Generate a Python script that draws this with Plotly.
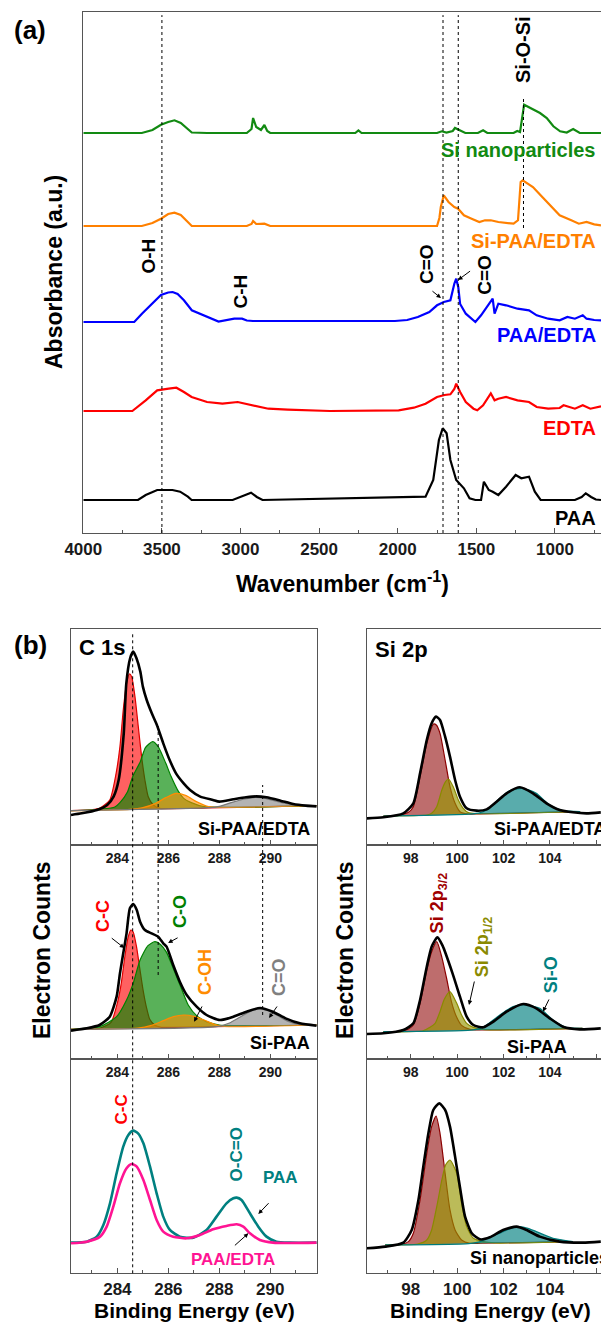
import plotly.graph_objects as go

W, H = 601, 1324
FONT = "Liberation Sans, Arial, sans-serif"
NARROW = "Liberation Sans Narrow, Liberation Sans, Arial, sans-serif"

# ================= (a) FTIR spectra =================
wn_si = [4000, 3628, 3560, 3506, 3460, 3420, 3380, 3330, 3310, 3213, 2960, 2930, 2920, 2900, 2870, 2848,
         2830, 2811, 2270, 2250, 2230, 1750, 1720, 1690, 1650, 1636, 1600, 1570, 1490, 1457, 1430, 1263,
         1240, 1222, 1196, 1158, 1095, 1052, 1010, 967, 925, 884, 842, 707]
ab_si = [0, 0, 3, 8.3, 11, 12.7, 10, 3, 0.5, 0, 0, 4, 15, 6, 3, 8,
         2, 0, 0, 2.5, 0, 0, 1.7, 0.5, 2, 5, 2, 0, 0, 2.7, 0, 0,
         2, 1, 28.3, 25, 20, 15, 6.7, 1.7, 0.5, 4, 0, 0]

wn_sipe = [4000, 3628, 3560, 3506, 3460, 3420, 3380, 3330, 3310, 2960, 2930, 2920, 2900, 2848, 2811, 1750,
           1735, 1726, 1707, 1677, 1640, 1616, 1579, 1530, 1481, 1445, 1408, 1360, 1263, 1235, 1218, 1205,
           1190, 1140, 1091, 1018, 970, 896, 848, 799, 750, 707]
ab_sipe = [0, 0, 3, 7.3, 12, 13.3, 11, 3, 0, 0, 2, 5, 2, 2.3, 0, 0,
           8, 19, 30.7, 24, 19, 17.3, 10.7, 7.3, 4, 5.7, 5.7, 4, 2.3, 5.7, 44, 45.7,
           44, 39, 30.7, 19, 10.7, 5.7, 2.3, 4, 1.7, 0.7]

wn_pe = [4000, 3676, 3627, 3554, 3506, 3460, 3432, 3400, 3360, 3310, 3213, 3140, 3040, 2990, 2960, 2921,
         2500, 2018, 1940, 1872, 1799, 1750, 1707, 1665, 1640, 1628, 1615, 1603, 1567, 1530, 1506, 1470,
         1433, 1408, 1396, 1384, 1360, 1311, 1238, 1165, 1116, 1043, 970, 921, 873, 823, 799, 750, 707]
ab_pe = [0, 0, 8.3, 20, 27, 29.5, 30, 28, 21.7, 11.7, 5, 0.5, 3.3, 3.3, 1.5, 1,
         1, 1, 2, 5, 10, 16.7, 20, 21.7, 38.3, 43.3, 35, 18, 8.3, 3.3, 0, 6.7,
         15, 21.7, 23.3, 8.3, 18.3, 16.7, 13.3, 11.7, 6.7, 3.3, 1.7, 5, 3.3, 6.7, 3.3, 2, 1.7]

wn_ed = [4000, 3688, 3603, 3530, 3457, 3408, 3360, 3311, 3213, 3115, 3018, 2921, 2823, 2700, 2432, 1994,
         1897, 1823, 1750, 1702, 1665, 1640, 1628, 1603, 1567, 1518, 1494, 1457, 1408, 1384, 1360, 1311,
         1238, 1165, 1116, 1043, 970, 945, 873, 823, 775, 707]
ab_ed = [0, 0, 10.7, 20.7, 22.3, 23.3, 19, 14, 9, 7.3, 9, 5.7, 2.3, 1.3, 0, 0.7,
         3.3, 7.3, 14, 16, 16.7, 22, 27.3, 19, 9, 2.3, 0.7, 5.7, 17.7, 10.7, 12.3, 14,
         10.7, 9, 4, 2.3, 3, 5.7, 2.3, 5.7, 2.3, 4.7]

wn_paa = [4000, 3652, 3603, 3530, 3433, 3384, 3335, 3311, 3050, 2994, 2933, 2896, 2860, 1823, 1774, 1738,
          1714, 1689, 1665, 1628, 1579, 1543, 1506, 1470, 1452, 1421, 1396, 1360, 1311, 1250, 1214, 1165,
          1128, 1091, 873, 830, 804, 770, 740, 707]
ab_paa = [0, 0, 5, 10, 10, 8.3, 3.3, 0, 0, 3.3, 7.3, 3, 0, 3.3, 20, 60,
          71.7, 66.7, 40, 20, 11.7, 1.7, 0, 0, 18.3, 10, 8.3, 5, 13.3, 25, 21.7, 23.3,
          8.3, 0, 0, 3, 6.7, 3, 0.5, 0]

ftir_names = ["Si nanoparticles", "Si-PAA/EDTA", "PAA/EDTA", "EDTA", "PAA"]
ftir_x = [wn_si, wn_sipe, wn_pe, wn_ed, wn_paa]
ftir_y = [ab_si, ab_sipe, ab_pe, ab_ed, ab_paa]
ftir_offset = [400, 307, 211, 122, 33]
ftir_color = ["#128a12", "#ff8000", "#0000ff", "#ff0000", "#000000"]

# ================= (b) XPS C 1s =================
ev_c1s_base = [282.18, 291.82]
# Si-PAA/EDTA
c_a_base = [103, 118]
ev_a_env = [282.18, 282.6, 283.2, 283.6, 283.85, 284.05, 284.25, 284.35, 284.5, 284.62, 284.75, 284.9, 285.0,
            285.15, 285.35, 285.55, 285.8, 286.05, 286.3, 286.6, 286.85, 287.25, 287.75, 288.0, 288.55,
            289.05, 289.45, 289.85, 290.4, 290.9, 291.4, 291.82]
c_a_env = [90, 95, 105, 120, 145, 195, 335, 485, 560, 580, 560, 520, 475, 435, 395, 360, 305, 255, 215,
           185, 165, 145, 135, 130, 137, 143, 146, 143, 133, 123, 118, 116]
ev_a_cc = [282.18, 283.0, 283.3, 283.7, 283.95, 284.1, 284.23, 284.36, 284.47, 284.56, 284.69, 284.82,
           284.95, 285.08, 285.21, 285.41, 285.67, 286.0, 291.82]
c_a_cc = [103, 106, 110, 135, 215, 295, 405, 485, 513, 505, 445, 355, 265, 195, 145, 120, 110, 109, 118]
ev_a_co = [282.18, 283.4, 283.9, 284.1, 284.4, 284.6, 284.9, 285.1, 285.38, 285.6, 285.9, 286.1, 286.4,
           286.6, 286.9, 287.4, 291.82]
c_a_co = [103, 108, 114, 127, 160, 205, 250, 292, 310, 295, 245, 207, 160, 140, 127, 115, 118]
ev_a_coh = [282.18, 284.5, 285.0, 285.5, 285.9, 286.3, 286.7, 287.1, 287.5, 287.9, 288.3, 291.82]
c_a_coh = [103, 107, 112, 125, 142, 155, 148, 130, 117, 113, 113, 118]
ev_a_cdo = [282.18, 287.6, 288.0, 288.5, 289.0, 289.4, 289.8, 290.3, 290.8, 291.3, 291.82]
c_a_cdo = [103, 112, 116, 128, 138, 143, 140, 130, 122, 118, 118]

# Si-PAA
c_b_base = [89, 102]
ev_b_env = [282.18, 282.8, 283.3, 283.7, 283.97, 284.1, 284.23, 284.36, 284.49, 284.62, 284.76, 284.89,
            285.08, 285.34, 285.6, 285.8, 285.93, 286.19, 286.45, 286.72, 287.11, 287.5, 288.02, 288.55,
            289.07, 289.6, 290.1, 290.6, 291.16, 291.82]
c_b_env = [85, 92, 102, 127, 187, 257, 317, 377, 452, 465, 447, 412, 387, 377, 367, 347, 337, 282, 232,
           192, 157, 132, 117, 127, 142, 153, 142, 122, 107, 100]
ev_b_cc = [282.18, 283.3, 283.75, 284.0, 284.15, 284.29, 284.42, 284.53, 284.62, 284.75, 284.88, 285.01,
           285.14, 285.27, 285.47, 285.73, 286.2, 291.82]
c_b_cc = [89, 92, 110, 168, 226, 306, 365, 387, 381, 337, 271, 206, 155, 119, 101, 95, 95, 102]
ev_b_co = [282.18, 283.3, 283.97, 284.36, 284.62, 284.89, 285.2, 285.47, 285.7, 285.93, 286.19, 286.52,
           286.78, 287.11, 287.5, 288.0, 291.82]
c_b_co = [89, 97, 127, 177, 227, 297, 340, 352, 343, 320, 272, 210, 162, 130, 112, 102, 102]
ev_b_coh = [282.18, 284.8, 285.3, 285.8, 286.2, 286.6, 287.0, 287.4, 287.8, 288.2, 291.82]
c_b_coh = [89, 93, 100, 115, 127, 132, 128, 117, 104, 98, 102]
ev_b_cdo = [282.18, 287.9, 288.4, 288.8, 289.2, 289.55, 289.9, 290.3, 290.7, 291.2, 291.82]
c_b_cdo = [89, 97, 108, 125, 142, 150, 145, 130, 113, 103, 102]

# PAA and PAA/EDTA
ev_paa = [282.18, 282.8, 283.19, 283.45, 283.71, 283.97, 284.23, 284.43, 284.62, 284.81, 285.02, 285.28,
          285.54, 285.8, 286.06, 286.45, 286.98, 287.5, 287.89, 288.28, 288.55, 288.68, 288.87, 289.2,
          289.53, 289.85, 290.24, 290.77, 291.82]
c_paa = [92, 95, 110, 145, 210, 300, 380, 415, 428, 420, 390, 320, 240, 170, 130, 110, 107, 130, 170,
         210, 225, 227, 220, 180, 140, 110, 95, 92, 92]
ev_pe = [282.18, 282.8, 283.32, 283.58, 283.84, 284.1, 284.36, 284.56, 284.76, 285.02, 285.28, 285.54,
         285.8, 286.19, 286.72, 287.24, 287.76, 288.28, 288.68, 288.94, 289.2, 289.59, 290.11, 291.82]
c_pe = [90, 95, 110, 140, 200, 270, 315, 328, 320, 280, 220, 160, 125, 110, 105, 115, 132, 142, 147, 140,
        120, 100, 92, 92]

# ================= (b) XPS Si 2p =================
# Si-PAA/EDTA
ev_d_base = [96.82, 105.3]
c_d_base = [87, 100]
ev_d_env = [96.11, 96.82, 97.68, 98.11, 98.4, 98.69, 98.9, 99.09, 99.26, 99.48, 99.69, 99.91, 100.12,
            100.41, 100.84, 101.27, 101.7, 102.13, 102.7, 103.27, 103.85, 104.42, 104.99, 105.57, 106.19]
c_d_env = [80, 83, 95, 125, 215, 315, 365, 385, 375, 325, 265, 195, 145, 110, 103, 107, 130, 155, 173,
           155, 125, 105, 98, 95, 98]
ev_d_32 = [96.82, 97.5, 97.9, 98.11, 98.4, 98.69, 98.98, 99.1, 99.26, 99.48, 99.69, 99.91, 100.12, 100.5,
           101.0, 105.3]
c_d_32 = [87, 90, 98, 115, 205, 305, 363, 360, 335, 255, 175, 125, 100, 93, 93.5, 100]
ev_d_12 = [96.82, 98.7, 98.9, 99.12, 99.34, 99.5, 99.62, 99.83, 100.05, 100.26, 100.48, 100.8, 105.3]
c_d_12 = [87, 90, 95, 115, 165, 190, 198, 175, 135, 110, 97, 94, 100]
ev_d_sio = [96.82, 100.5, 101.0, 101.27, 101.84, 102.27, 102.77, 103.1, 103.41, 103.99, 104.56, 105.3]
c_d_sio = [87, 92.6, 97, 105, 140, 163, 170, 165, 155, 120, 103, 100]

# Si-PAA
ev_e_base = [96.82, 105.4]
c_e_base = [82, 92]
ev_e_env = [96.11, 96.82, 97.68, 98.11, 98.4, 98.69, 98.9, 99.15, 99.37, 99.8, 100.12, 100.41, 100.7,
            101.13, 101.56, 102.13, 102.85, 103.41, 103.99, 104.56, 105.28, 106.19]
c_e_env = [75, 77, 87, 107, 177, 277, 337, 365, 340, 257, 187, 127, 102, 95, 112, 142, 165, 152, 122, 97,
           89, 92]
ev_e_32 = [96.82, 97.6, 97.9, 98.11, 98.4, 98.69, 98.9, 99.12, 99.34, 99.55, 99.76, 99.98, 100.19, 100.55,
           101.0, 105.4]
c_e_32 = [82, 84, 90, 102, 167, 267, 322, 352, 305, 240, 170, 125, 101, 89, 87.5, 92]
ev_e_12 = [96.82, 98.5, 98.83, 99.05, 99.26, 99.45, 99.69, 99.98, 100.19, 100.41, 100.7, 101.2, 105.4]
c_e_12 = [82, 84, 95, 107, 142, 180, 202, 167, 132, 107, 95, 88, 92]
ev_e_sio = [96.82, 100.6, 101.0, 101.27, 101.84, 102.41, 102.92, 103.56, 104.13, 104.7, 105.4]
c_e_sio = [82, 86.5, 92, 102, 132, 157, 162, 152, 117, 95, 92]

# Si nanoparticles
ev_f_base = [96.9, 104.99]
c_f_base = [85, 95]
ev_f_env = [96.11, 96.9, 97.68, 98.04, 98.33, 98.54, 98.76, 98.97, 99.23, 99.48, 99.69, 99.91, 100.12,
            100.34, 100.63, 100.98, 101.41, 101.98, 102.56, 102.99, 103.56, 104.42, 105.42, 106.19]
c_f_env = [75, 80, 92, 130, 220, 320, 420, 490, 510, 490, 440, 350, 258, 170, 120, 102, 108, 130, 140, 130,
           110, 95, 92, 95]
ev_f_32 = [96.9, 97.6, 97.9, 98.11, 98.4, 98.69, 98.9, 99.09, 99.26, 99.48, 99.69, 99.91, 100.19, 100.55,
           101.0, 104.99]
c_f_32 = [85, 87, 95, 120, 220, 360, 440, 472, 420, 300, 190, 130, 100, 90, 90.1, 95]
ev_f_12 = [96.9, 98.3, 98.69, 98.9, 99.12, 99.34, 99.5, 99.69, 99.98, 100.19, 100.41, 100.7, 101.13, 101.6,
           104.99]
c_f_12 = [85, 88, 100, 130, 200, 280, 325, 340, 300, 210, 140, 105, 95, 91, 95]
ev_f_sio = [96.9, 100.5, 101.0, 101.27, 101.98, 102.3, 102.7, 103.05, 103.41, 104.13, 104.99]
c_f_sio = [85, 89.3, 95, 105, 125, 135, 140, 135, 125, 105, 95]

# ================= figure =================
fig = go.Figure()

for name, xs, ys, off, col in zip(ftir_names, ftir_x, ftir_y, ftir_offset, ftir_color):
    fig.add_trace(go.Scatter(x=xs, y=[off + v for v in ys], mode="lines", name=name,
                             line=dict(color=col, width=2.2), xaxis="x", yaxis="y"))

C_RED = dict(line="#e00000", fill="rgba(255,0,0,0.62)")
C_GRN = dict(line="#008000", fill="rgba(0,135,0,0.65)")
C_ORG = dict(line="#ff8c00", fill="rgba(255,140,0,0.6)")
C_GRY = dict(line="#777777", fill="rgba(128,128,128,0.6)")
C_DRD = dict(line="#8b0000", fill="rgba(150,20,20,0.62)")
C_OLV = dict(line="#8a8a00", fill="rgba(150,150,0,0.65)")
C_TEA = dict(line="#007b7b", fill="rgba(0,128,128,0.65)")


def add_component(bx, by, xs, ys, col, xa, ya):
    fig.add_trace(go.Scatter(x=bx, y=by, mode="lines", line=dict(width=0), hoverinfo="skip",
                             showlegend=False, xaxis=xa, yaxis=ya))
    fig.add_trace(go.Scatter(x=xs, y=ys, mode="lines", fill="tonexty", fillcolor=col["fill"],
                             line=dict(color=col["line"], width=1.2, shape="spline", smoothing=0.6),
                             showlegend=False, xaxis=xa, yaxis=ya))


def add_env(xs, ys, xa, ya, color="black", width=2.6):
    fig.add_trace(go.Scatter(x=xs, y=ys, mode="lines",
                             line=dict(color=color, width=width, shape="spline", smoothing=0.6),
                             showlegend=False, xaxis=xa, yaxis=ya))


# C 1s top (Si-PAA/EDTA)
for xs, ys, col in [(ev_a_cc, c_a_cc, C_RED), (ev_a_co, c_a_co, C_GRN), (ev_a_coh, c_a_coh, C_ORG),
                    (ev_a_cdo, c_a_cdo, C_GRY)]:
    add_component(ev_c1s_base, c_a_base, xs, ys, col, "x2", "y2")
add_env(ev_a_env, c_a_env, "x2", "y2")
# C 1s middle (Si-PAA)
for xs, ys, col in [(ev_b_cc, c_b_cc, C_RED), (ev_b_co, c_b_co, C_GRN), (ev_b_coh, c_b_coh, C_ORG),
                    (ev_b_cdo, c_b_cdo, C_GRY)]:
    add_component(ev_c1s_base, c_b_base, xs, ys, col, "x3", "y3")
add_env(ev_b_env, c_b_env, "x3", "y3")
# C 1s bottom
add_env(ev_paa, c_paa, "x4", "y4", color="#008080", width=2.6)
add_env(ev_pe, c_pe, "x4", "y4", color="#ff1493", width=2.6)

# Si 2p
for xs, ys, col in [(ev_d_32, c_d_32, C_DRD), (ev_d_12, c_d_12, C_OLV), (ev_d_sio, c_d_sio, C_TEA)]:
    add_component(ev_d_base, c_d_base, xs, ys, col, "x5", "y5")
add_env(ev_d_env, c_d_env, "x5", "y5")
for xs, ys, col in [(ev_e_32, c_e_32, C_DRD), (ev_e_12, c_e_12, C_OLV), (ev_e_sio, c_e_sio, C_TEA)]:
    add_component(ev_e_base, c_e_base, xs, ys, col, "x6", "y6")
add_env(ev_e_env, c_e_env, "x6", "y6")
for xs, ys, col in [(ev_f_32, c_f_32, C_DRD), (ev_f_12, c_f_12, C_OLV), (ev_f_sio, c_f_sio, C_TEA)]:
    add_component(ev_f_base, c_f_base, xs, ys, col, "x7", "y7")
add_env(ev_f_env, c_f_env, "x7", "y7")


def py(p):
    return 1 - p / H


LINE = dict(showgrid=False, zeroline=False, showline=True, linecolor="#555", linewidth=1.3,
            automargin=False)


def xax(domain, rng, anchor, dtick, minor, size, fam=FONT):
    return dict(domain=domain, range=rng, anchor=anchor, dtick=dtick, tick0=0, ticks="inside",
                ticklen=5, tickwidth=1.2, tickcolor="#555", mirror=True,
                minor=dict(dtick=minor, ticks="inside", ticklen=3, tickcolor="#555"),
                tickfont=dict(size=size, family=fam, color="#1a1a1a", weight="bold"), **LINE)


def yax(domain, rng, anchor, mirror):
    return dict(domain=domain, range=rng, anchor=anchor, showticklabels=False, ticks="", mirror=mirror,
                **LINE)


LX = [71 / W, 316.7 / W]
RX = [366.7 / W, 1.0]
ROW1 = [py(845), py(629.3)]
ROW2 = [py(1059), py(845)]
ROW3 = [py(1273.3), py(1059)]
C1S = [282.18, 291.82]
SI2P = [96.1, 106.2]

fig.update_layout(
    template="none",
    width=W, height=H, autosize=False, margin=dict(l=0, r=0, t=0, b=0, pad=0, autoexpand=False),
    showlegend=False, paper_bgcolor="white", plot_bgcolor="white",
    xaxis=xax([83.3 / W, 1.0], [4000, 707], "y", 500, 250, 17),
    yaxis=yax([py(533), py(12)], [0, 521], "x", False),
    xaxis2=xax(LX, C1S, "y2", 2, 1, 14, NARROW), yaxis2=yax(ROW1, [0, 647], "x2", True),
    xaxis3=xax(LX, C1S, "y3", 2, 1, 14, NARROW), yaxis3=yax(ROW2, [0, 642], "x3", True),
    xaxis4=xax(LX, C1S, "y4", 2, 1, 17), yaxis4=yax(ROW3, [0, 643], "x4", True),
    xaxis5=xax(RX, SI2P, "y5", 2, 1, 14, NARROW), yaxis5=yax(ROW1, [0, 647], "x5", False),
    xaxis6=xax(RX, SI2P, "y6", 2, 1, 14, NARROW), yaxis6=yax(ROW2, [0, 642], "x6", False),
    xaxis7=xax(RX, SI2P, "y7", 2, 1, 17), yaxis7=yax(ROW3, [0, 643], "x7", False),
)

# dashed guide lines
DASH = dict(color="black", width=1, dash="3px,3px")
shapes = []
for wv in [3500, 1712, 1615]:
    shapes.append(dict(type="line", xref="x", yref="y domain", x0=wv, x1=wv, y0=0, y1=0.994, line=DASH))
shapes.append(dict(type="line", xref="x", yref="y", x0=1200, x1=1200, y0=305, y1=436, line=DASH))
shapes.append(dict(type="line", xref="x2", yref="paper", x0=284.6, x1=284.6, y0=py(1273.3), y1=py(633),
                   line=DASH))
shapes.append(dict(type="line", xref="x2", yref="paper", x0=285.6, x1=285.6, y0=py(975), y1=py(725),
                   line=DASH))
shapes.append(dict(type="line", xref="x2", yref="paper", x0=289.7, x1=289.7, y0=py(1015), y1=py(785),
                   line=DASH))
fig.update_layout(shapes=shapes)

anns = []


def txt(text, x, y, xref, yref, size, color="black", angle=0, xanchor="center"):
    anns.append(dict(text=text, x=x, y=y, xref=xref, yref=yref, showarrow=False, textangle=angle,
                     xanchor=xanchor, yanchor="middle",
                     font=dict(family=FONT, size=size, color=color, weight="bold")))


def arrow(x, y, xref, yref, ax, ay):
    anns.append(dict(text="", x=x, y=y, xref=xref, yref=yref, ax=ax, ay=ay, showarrow=True,
                     arrowhead=2, arrowsize=0.9, arrowwidth=1, arrowcolor="black"))


# panel titles / axis titles
txt("(a)", 30 / W, py(30), "paper", "paper", 26)
txt("(b)", 30 / W, py(645), "paper", "paper", 26)
txt("Absorbance (a.u.)", 54 / W, py(272), "paper", "paper", 23, angle=-90)
txt("Wavenumber (cm<sup>-1</sup>)", 342 / W, py(582), "paper", "paper", 23)
txt("Electron Counts", 42 / W, py(950), "paper", "paper", 23, angle=-90)
txt("Electron Counts", 345 / W, py(950), "paper", "paper", 23, angle=-90)
txt("Binding Energy (eV)", 194 / W, py(1310), "paper", "paper", 21)
txt("Binding Energy (eV)", 490 / W, py(1310), "paper", "paper", 21)

# FTIR labels
for name, yv, col in zip(ftir_names, [383, 292, 198, 105, 15], ftir_color):
    txt(name, 726, yv, "x", "y", 20, col, xanchor="right")
txt("O-H", 3591, 277, "x", "y", 19, angle=-90)
txt("C-H", 3006, 241, "x", "y", 19, angle=-90)
txt("C=O", 1820, 269, "x", "y", 19, angle=-90)
txt("C=O", 1453, 258, "x", "y", 19, angle=-90)
txt("Si-O-Si", 1203, 483, "x", "y", 20, angle=-90)
arrow(1725, 235, "x", "y", -10, -8)
arrow(1616, 253, "x", "y", 13.5, -10)

# C 1s labels
txt("C 1s", 282.42, 591, "x2", "y2", 22, xanchor="left")
txt("Si-PAA/EDTA", 291.64, 48, "x2", "y2", 18, xanchor="right")
txt("Si-PAA", 291.64, 48, "x3", "y3", 18, xanchor="right")
txt("C-C", 283.44, 429, "x3", "y3", 18, "#ff0000", angle=-90)
txt("C-O", 286.46, 441, "x3", "y3", 18, "#008000", angle=-90)
txt("C-OH", 287.44, 261, "x3", "y3", 18, "#ff8c00", angle=-90)
txt("C=O", 290.34, 246, "x3", "y3", 18, "#808080", angle=-90)
arrow(284.27, 333, "x3", "y3", -14, -11)
arrow(285.99, 348, "x3", "y3", 11, -6)
arrow(287.01, 112, "x3", "y3", 8.7, -16.7)
arrow(289.95, 123, "x3", "y3", 9, -13)
txt("C-C", 284.2, 493, "x4", "y4", 17, "#ff0000", angle=-90)
txt("O-C=O", 288.71, 358, "x4", "y4", 17, "#008080", angle=-90)
txt("PAA", 290.38, 286, "x4", "y4", 17, "#008080")
txt("PAA/EDTA", 288.54, 40, "x4", "y4", 17, "#ff1493")
arrow(289.53, 178, "x4", "y4", 11.7, -12.3)
arrow(289.14, 120, "x4", "y4", -15, 13.4)

# Si 2p labels
txt("Si 2p", 96.38, 585, "x5", "y5", 22, xanchor="left")
txt("Si-PAA/EDTA", 101.48, 48, "x5", "y5", 18, xanchor="left")
txt("Si-PAA", 102.06, 37, "x6", "y6", 18, xanchor="left")
txt("Si nanoparticles", 100.48, 46, "x7", "y7", 18, xanchor="left")
txt("Si 2p<sub>3/2</sub>", 99.19, 468, "x6", "y6", 18, "#a00000", angle=-90)
txt("Si 2p<sub>1/2</sub>", 101.12, 336, "x6", "y6", 18, "#8a8a00", angle=-90)
txt("Si-O", 104.06, 252, "x6", "y6", 18, "#008080", angle=-90)
arrow(100.51, 162, "x6", "y6", 5.7, -25)
arrow(103.7, 142, "x6", "y6", 6.7, -13.7)

fig.update_layout(annotations=anns)
fig.write_html(
    "out.html", config={"responsive": False, "displayModeBar": False},
    post_script="document.body.style.margin='0';document.body.style.padding='0';"
                "document.body.style.overflow='hidden';"
)
